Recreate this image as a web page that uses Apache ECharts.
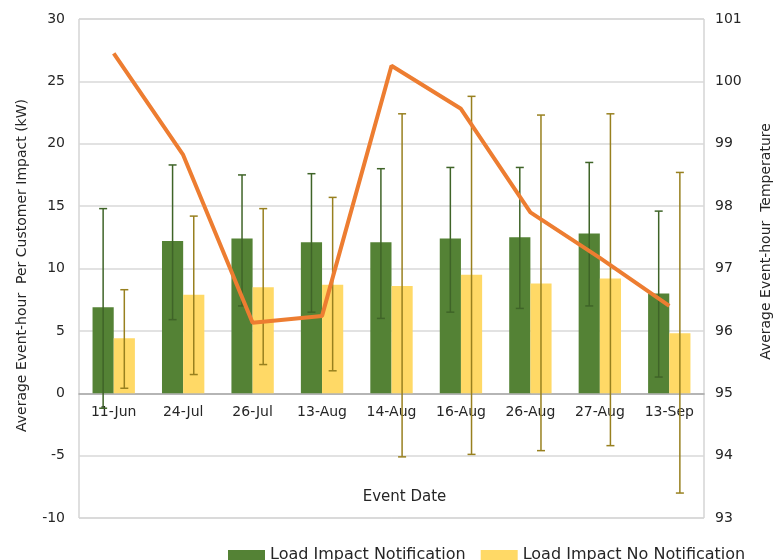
<!DOCTYPE html>
<html>
<head>
<meta charset="utf-8">
<script src="https://cdn.jsdelivr.net/npm/echarts@6/dist/echarts.min.js"></script>
<style>
  html, body { margin: 0; padding: 0; background: #fff; }
  #chart { width: 776px; height: 560px; }
</style>
</head>
<body>
<div id="chart"></div>
<script>
// Event dates
var categories = ['11-Jun', '24-Jul', '26-Jul', '13-Aug', '14-Aug', '16-Aug', '26-Aug', '27-Aug', '13-Sep'];

// Average event-hour per customer impact (kW)
var notification = [6.9, 12.2, 12.4, 12.1, 12.1, 12.4, 12.5, 12.8, 8.0];
var noNotification = [4.4, 7.9, 8.5, 8.7, 8.6, 9.5, 8.8, 9.2, 4.8];

// Confidence bounds for each bar
var notificationLow = [-1.2, 5.9, 7.0, 6.5, 6.0, 6.5, 6.8, 7.0, 1.3];
var notificationHigh = [14.8, 18.3, 17.5, 17.6, 18.0, 18.1, 18.1, 18.5, 14.6];
var noNotificationLow = [0.4, 1.5, 2.3, 1.8, -5.1, -4.9, -4.6, -4.2, -8.0];
var noNotificationHigh = [8.3, 14.2, 14.8, 15.7, 22.4, 23.8, 22.3, 22.4, 17.7];

// Average event-hour temperature
var temperature = [100.45, 98.82, 96.13, 96.24, 100.25, 99.56, 97.9, 97.17, 96.4];

// Axis ranges
var impactTicks = { min: -10, max: 30, interval: 5 };
var tempTicks = { min: 93, max: 101, interval: 1 };

var FONT = 'DejaVu Sans';
var CAT_GAP = 0.39; // share of each category left empty between bar groups
var GRID = { left: 79, right: 72, top: 19, bottom: 42 };
var CHART_H = 560;

// The category axis sits on the zero line of the impact axis
var plotH = CHART_H - GRID.top - GRID.bottom;
var zeroY = GRID.top + plotH * impactTicks.max / (impactTicks.max - impactTicks.min);
var xAxisOffset = -((CHART_H - GRID.bottom) - zeroY);

function errorRows(low, high) {
  return categories.map(function (c, i) { return [i, low[i], high[i]]; });
}

// Whisker with caps, drawn at the centre of the left (-1) or right (+1) bar
function makeErrorRenderer(side, color) {
  return function (params, api) {
    var idx = api.value(0);
    var lo = api.coord([idx, api.value(1)]);
    var hi = api.coord([idx, api.value(2)]);
    var band = api.size([1, 0])[0];
    var barW = band * (1 - CAT_GAP) / 2;
    var x = lo[0] + side * barW / 2;
    var cap = 4;
    var style = { stroke: color, lineWidth: 1.5 };
    return {
      type: 'group',
      children: [
        { type: 'line', shape: { x1: x, y1: hi[1], x2: x, y2: lo[1] }, style: style },
        { type: 'line', shape: { x1: x - cap, y1: hi[1], x2: x + cap, y2: hi[1] }, style: style },
        { type: 'line', shape: { x1: x - cap, y1: lo[1], x2: x + cap, y2: lo[1] }, style: style }
      ]
    };
  };
}

var chart = echarts.init(document.getElementById('chart'), null, { renderer: 'canvas' });

chart.setOption({
  animation: false,
  textStyle: { fontFamily: FONT },
  grid: {
    left: GRID.left, right: GRID.right, top: GRID.top, bottom: GRID.bottom,
    show: true, borderColor: '#bfbfbf', borderWidth: 1,
    containLabel: false,
    outerBoundsMode: 'none'
  },
  legend: {
    left: 228, top: 547,
    padding: 0,
    itemWidth: 37, itemHeight: 10, itemGap: 15,
    icon: 'rect',
    textStyle: { fontFamily: FONT, fontSize: 16, color: '#262626', padding: [0, 0, 0, 0] },
    data: ['Load Impact Notification', 'Load Impact No Notification']
  },
  xAxis: {
    type: 'category',
    data: categories,
    offset: xAxisOffset,
    axisLine: { onZero: false, lineStyle: { color: '#a6a6a6', width: 1.5 } },
    axisTick: { show: false },
    axisLabel: { fontFamily: FONT, fontSize: 14, color: '#262626', margin: 12 },
    name: 'Event Date',
    nameLocation: 'middle',
    nameGap: 96,
    nameTextStyle: { fontFamily: FONT, fontSize: 15, color: '#262626', padding: [0, 0, 0, 26] }
  },
  yAxis: [
    {
      type: 'value',
      min: impactTicks.min, max: impactTicks.max, interval: impactTicks.interval,
      axisLine: { show: false },
      axisTick: { show: false },
      splitLine: { lineStyle: { color: '#d9d9d9', width: 1.5 } },
      axisLabel: { fontFamily: FONT, fontSize: 14, color: '#262626', margin: 14 },
      name: 'Average Event-hour  Per Customer Impact (kW)',
      nameLocation: 'middle',
      nameRotate: 90,
      nameGap: 50,
      nameTextStyle: { fontFamily: FONT, fontSize: 14, color: '#262626', padding: [0, 0, 0, 6] }
    },
    {
      type: 'value',
      position: 'right',
      min: tempTicks.min, max: tempTicks.max, interval: tempTicks.interval,
      axisLine: { show: false },
      axisTick: { show: false },
      splitLine: { show: false },
      axisLabel: { fontFamily: FONT, fontSize: 14, color: '#262626', margin: 11 },
      name: 'Average Event-hour  Temperature',
      nameLocation: 'middle',
      nameRotate: 90,
      nameGap: 55,
      nameTextStyle: { fontFamily: FONT, fontSize: 14, color: '#262626', padding: [0, 0, 0, 54] }
    }
  ],
  series: [
    {
      name: 'Load Impact Notification',
      type: 'bar',
      data: notification,
      barGap: '0%',
      barCategoryGap: (CAT_GAP * 100) + '%',
      itemStyle: { color: '#548235' },
      z: 2
    },
    {
      name: 'Load Impact No Notification',
      type: 'bar',
      data: noNotification,
      itemStyle: { color: '#ffd966' },
      z: 2
    },
    {
      name: 'notification range',
      type: 'custom',
      data: errorRows(notificationLow, notificationHigh),
      encode: { x: 0, y: [1, 2] },
      renderItem: makeErrorRenderer(-1, '#3f6428'),
      z: 3,
      silent: true
    },
    {
      name: 'no notification range',
      type: 'custom',
      data: errorRows(noNotificationLow, noNotificationHigh),
      encode: { x: 0, y: [1, 2] },
      renderItem: makeErrorRenderer(1, '#98801f'),
      z: 3,
      silent: true
    },
    {
      name: 'Temperature',
      type: 'line',
      yAxisIndex: 1,
      data: temperature,
      showSymbol: false,
      symbol: 'none',
      lineStyle: { color: '#ed7d31', width: 4 },
      z: 4
    }
  ]
});
</script>
</body>
</html>
